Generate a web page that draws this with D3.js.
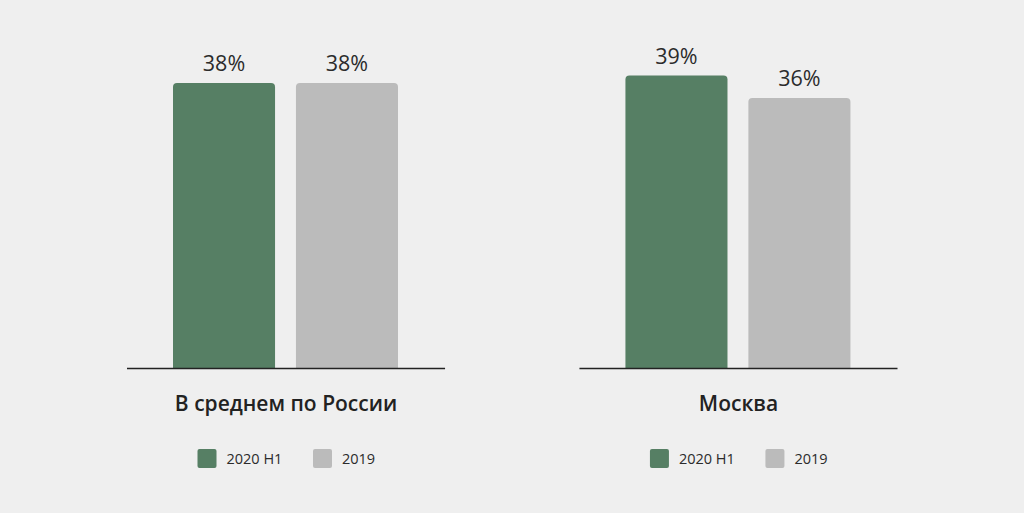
<!DOCTYPE html>
<html>
<head>
<meta charset="utf-8">
<script src="https://cdn.jsdelivr.net/npm/d3@7"></script>
<style>
  html, body { margin: 0; padding: 0; background: #efefef; }
  svg { display: block; font-family: "Open Sans", "Noto Sans", sans-serif; }
</style>
</head>
<body>
<div id="chart"></div>
<script>
const categories = ["В среднем по России", "Москва"];
const series = ["2020 H1", "2019"];
const values2020 = [38, 39];
const values2019 = [38, 36];
const colors = ["#567f64", "#bbbbbb"];

const width = 1024;
const height = 513;
const baseY = 368;

const svg = d3.select("#chart").append("svg")
  .attr("width", width)
  .attr("height", height);

const panel = d3.scaleBand()
  .domain(categories)
  .range([127, 897.5])
  .paddingInner(0.297);

const x = d3.scaleBand()
  .domain(series)
  .range([46, 271])
  .paddingInner(0.17);

const y = d3.scaleLinear()
  .domain([0, 40])
  .range([baseY, 68]);

const color = d3.scaleOrdinal().domain(series).range(colors);

// rounded top corners only
function barPath(x0, w, top, bottom, r) {
  return "M" + x0 + "," + bottom +
    "V" + (top + r) +
    "Q" + x0 + "," + top + " " + (x0 + r) + "," + top +
    "H" + (x0 + w - r) +
    "Q" + (x0 + w) + "," + top + " " + (x0 + w) + "," + (top + r) +
    "V" + bottom + "Z";
}

const panels = svg.selectAll("g.panel")
  .data(categories.map((c, i) => ({
    name: c,
    bars: [
      {key: series[0], value: values2020[i]},
      {key: series[1], value: values2019[i]}
    ]
  })))
  .enter().append("g")
    .attr("class", "panel")
    .attr("transform", d => "translate(" + panel(d.name) + ",0)");

panels.selectAll("path.bar")
  .data(d => d.bars)
  .enter().append("path")
    .attr("class", "bar")
    .attr("fill", d => color(d.key))
    .attr("d", d => barPath(x(d.key), x.bandwidth(), y(d.value), y(0), 4));

panels.selectAll("text.value")
  .data(d => d.bars)
  .enter().append("text")
    .attr("class", "value")
    .attr("x", d => x(d.key) + x.bandwidth() / 2)
    .attr("y", d => y(d.value) - 12)
    .attr("text-anchor", "middle")
    .attr("font-size", 21.5)
    .attr("fill", "#2b2b2b")
    .text(d => d.value + "%");

panels.append("line")
  .attr("x1", 0)
  .attr("x2", panel.bandwidth())
  .attr("y1", y(0) + 0.5)
  .attr("y2", y(0) + 0.5)
  .attr("stroke", "#222")
  .attr("stroke-width", 1.3);

panels.append("text")
  .attr("x", panel.bandwidth() / 2)
  .attr("y", 411)
  .attr("text-anchor", "middle")
  .attr("font-size", 21)
  .attr("font-weight", 600)
  .attr("fill", "#222")
  .text(d => d.name);

// legend
const legendX = [70.5, 186];
const legend = panels.selectAll("g.legend")
  .data(series)
  .enter().append("g")
    .attr("class", "legend")
    .attr("transform", (d, i) => "translate(" + legendX[i] + ",449)");

legend.append("rect")
  .attr("width", 19)
  .attr("height", 19)
  .attr("rx", 2)
  .attr("fill", d => color(d));

legend.append("text")
  .attr("x", 29)
  .attr("y", 14.5)
  .attr("font-size", 14.5)
  .attr("fill", "#2b2b2b")
  .text(d => d);
</script>
</body>
</html>
